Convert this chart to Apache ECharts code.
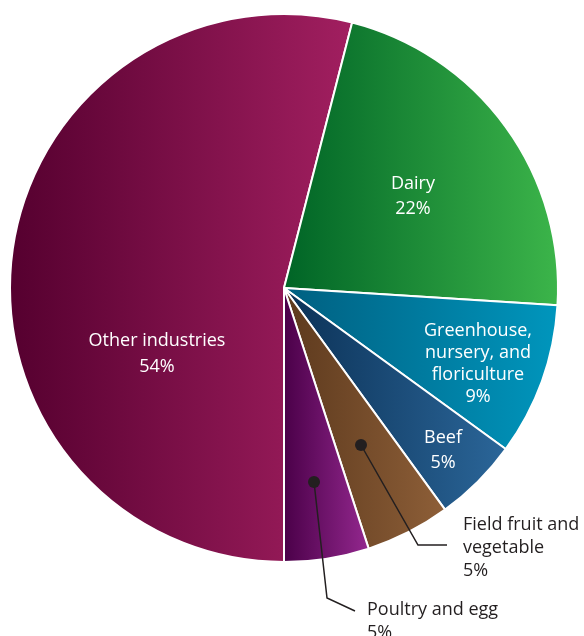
<!DOCTYPE html>
<html>
<head>
<meta charset="utf-8">
<script src="https://cdn.jsdelivr.net/npm/echarts@6/dist/echarts.min.js"></script>
<style>
  html, body { margin: 0; padding: 0; background: #ffffff; }
  #chart { width: 584px; height: 636px; }
</style>
</head>
<body>
<div id="chart"></div>
<script>
// Share of farm output by industry (percent)
const categories = [
  'Other industries',
  'Dairy',
  'Greenhouse, nursery, and floriculture',
  'Beef',
  'Field fruit and vegetable',
  'Poultry and egg'
];
const shares = [54, 22, 9, 5, 5, 5];

// Label text as printed (line breaks where the words wrap)
const labelText = [
  'Other industries',
  'Dairy',
  'Greenhouse,\nnursery, and\nfloriculture',
  'Beef',
  'Field fruit and\nvegetable',
  'Poultry and egg'
];

// Left (dark) and right (light) ends of each slice's gradient
const darkColors  = ['#55002f', '#006426', '#005f80', '#0b3156', '#5c391d', '#4a0048'];
const lightColors = ['#a21f60', '#3cb54a', '#0096bd', '#2b6699', '#8e5f38', '#94288f'];

// ---- layout ----
const CX = 284, CY = 288, R = 274;
// label anchor offsets from the pie centre
const labelSpots = [
  [-127, 66], [129, -92], [194, 76], [159, 162], [179, 260], [83, 333]
];
const labelLineHeights = [26, 25, 22, 25, 23, 23];
// leader lines for the two outside labels: dot on slice, elbow, end
const leaderLines = {
  4: [[77, 157], [134, 257], [163, 257]],
  5: [[30, 194], [43, 310], [71, 323]]
};

const FONT = '"Open Sans", "Noto Sans", sans-serif';
const INK = '#231f20';

const data = categories.map((name, i) => {
  const outside = leaderLines[i] !== undefined;
  return {
    name,
    value: shares[i],
    itemStyle: {
      color: new echarts.graphic.LinearGradient(0, 0, 1, 0, [
        { offset: 0, color: darkColors[i] },
        { offset: 1, color: lightColors[i] }
      ])
    },
    label: {
      position: outside ? 'outside' : 'inside',
      color: outside ? INK : '#ffffff',
      align: outside ? 'left' : 'center',
      lineHeight: labelLineHeights[i]
    },
    labelLine: { show: false }
  };
});

// leader lines and their dots, placed relative to the pie centre
const leaderGraphics = [];
Object.keys(leaderLines).forEach(k => {
  const pts = leaderLines[k].map(pt => [CX + pt[0], CY + pt[1]]);
  leaderGraphics.push({
    type: 'polyline',
    z: 100,
    shape: { points: pts },
    style: { stroke: INK, lineWidth: 1.5, fill: null }
  });
  leaderGraphics.push({
    type: 'circle',
    z: 101,
    shape: { cx: pts[0][0], cy: pts[0][1], r: 6 },
    style: { fill: INK }
  });
});

const chart = echarts.init(document.getElementById('chart'), null, { renderer: 'canvas' });

chart.setOption({
  backgroundColor: '#ffffff',
  animation: false,
  series: [{
    type: 'pie',
    center: [CX, CY],
    radius: [0, R],
    startAngle: -90,
    clockwise: true,
    silent: true,
    emphasis: { disabled: true },
    itemStyle: { borderColor: '#ffffff', borderWidth: 2 },
    label: {
      show: true,
      fontFamily: FONT,
      fontSize: 18,
      overflow: 'none',
      formatter: p => labelText[p.dataIndex] + '\n' + p.value + '%'
    },
    labelLayout: p => {
      const i = p.dataIndex;
      const s = labelSpots[i];
      return {
        x: CX + s[0],
        y: CY + s[1],
        align: leaderLines[i] ? 'left' : 'center',
        verticalAlign: 'middle'
      };
    },
    data
  }],
  graphic: leaderGraphics
});
</script>
</body>
</html>
